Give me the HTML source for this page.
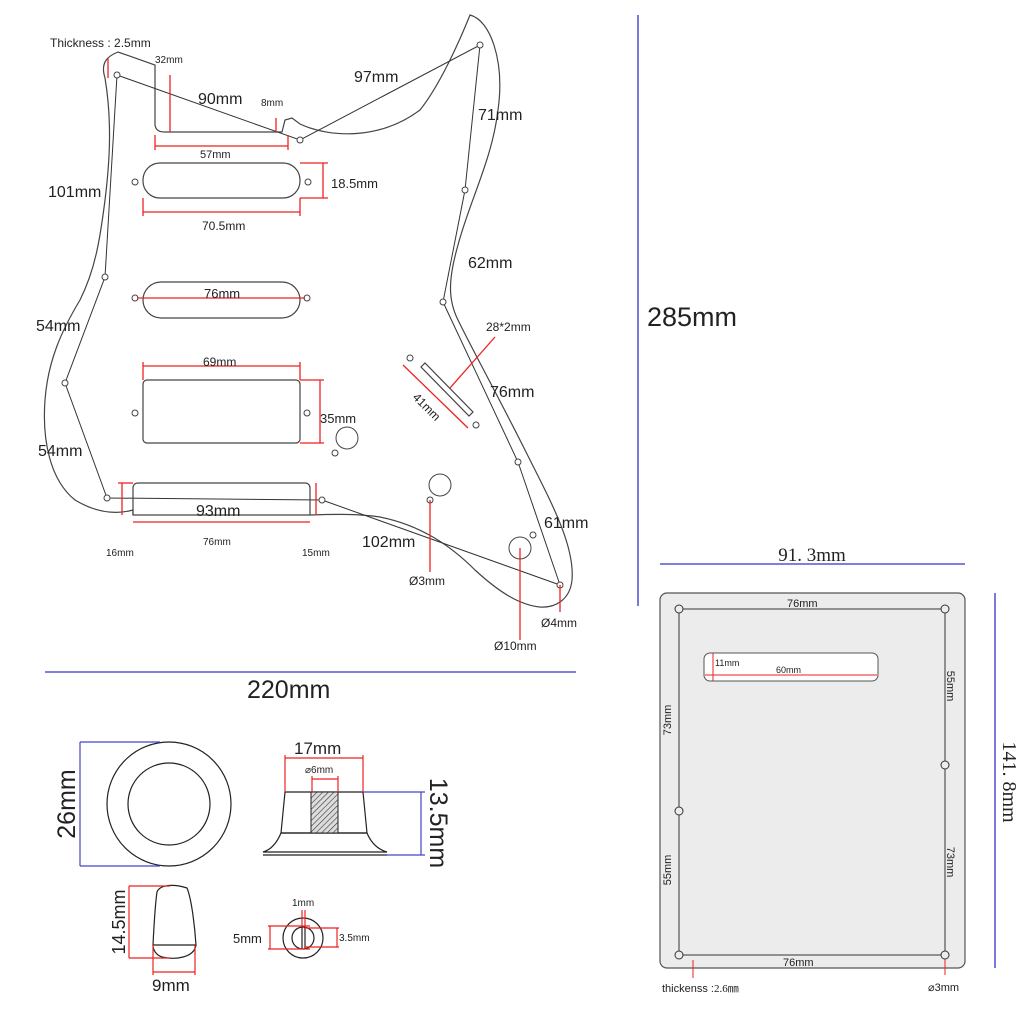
<!DOCTYPE html>
<html><head><meta charset="utf-8"><style>
html,body{margin:0;padding:0;background:#fff;}
svg{display:block;font-family:"Liberation Sans",sans-serif;}
</style></head><body>
<svg width="1024" height="1024" viewBox="0 0 1024 1024" xmlns="http://www.w3.org/2000/svg">
<defs>
<pattern id="hatch" width="4" height="4" patternUnits="userSpaceOnUse" patternTransform="rotate(45)">
<rect width="4" height="4" fill="#ddd"/><line x1="0" y1="0" x2="0" y2="4" stroke="#333" stroke-width="1.2"/></pattern>
</defs>
<!-- pickguard outline -->
<path d="M105,78 C100,62 108,56 118,52 L155,65 L155,125 C156,131 160,132 165,132 L282,132 L285,120 L292,118 L300,124 C330,138 380,140 420,110 C440,85 460,40 470,15 C490,20 505,60 498,110 C492,160 470,200 458,245 C448,280 448,300 458,320 C470,345 500,400 525,450 C550,500 575,545 572,580 C570,600 555,608 540,607 C520,605 500,593 475,570 C450,545 420,525 380,517 C360,514 340,514 310,515 L133,515 L133,510 C115,515 95,512 75,500 C50,480 42,440 45,400 C48,360 62,330 80,300 C95,270 100,240 105,200 C110,160 112,120 105,78 Z" fill="none" stroke="#444" stroke-width="1.2"/>
<!-- screw connecting lines -->
<polyline points="117,75 300,140 480,45 465,190 443,302 518,462 560,585 322,500" fill="none" stroke="#333" stroke-width="1"/>
<polyline points="107,498 65,383 105,277 117,75" fill="none" stroke="#333" stroke-width="1"/>
<line x1="107" y1="498" x2="322" y2="500" stroke="#333" stroke-width="1"/>
<!-- screws -->
<g fill="#fff" stroke="#444" stroke-width="1">
<circle cx="117" cy="75" r="3"/><circle cx="300" cy="140" r="3"/><circle cx="480" cy="45" r="3"/>
<circle cx="465" cy="190" r="3"/><circle cx="443" cy="302" r="3"/><circle cx="518" cy="462" r="3"/>
<circle cx="560" cy="585" r="3"/><circle cx="322" cy="500" r="3"/><circle cx="107" cy="498" r="3"/>
<circle cx="65" cy="383" r="3"/><circle cx="105" cy="277" r="3"/>
<circle cx="135" cy="182" r="3"/><circle cx="308" cy="182" r="3"/>
<circle cx="135" cy="298" r="3"/><circle cx="307" cy="298" r="3"/>
<circle cx="135" cy="413" r="3"/><circle cx="307" cy="413" r="3"/>
<circle cx="410" cy="358" r="3"/><circle cx="476" cy="425" r="3"/>
<circle cx="347" cy="438" r="11"/><circle cx="335" cy="453" r="3"/>
<circle cx="440" cy="485" r="11"/><circle cx="430" cy="500" r="3"/>
<circle cx="520" cy="548" r="11"/><circle cx="533" cy="535" r="3"/>
</g>
<!-- pickups -->
<g fill="none" stroke="#444" stroke-width="1.2">
<rect x="143" y="163" width="157" height="35" rx="17"/>
<rect x="143" y="282" width="157" height="36" rx="18"/>
<rect x="143" y="380" width="157" height="63" rx="4"/>
<path d="M133,515 L133,488 C133,485 135,483 138,483 L305,483 C308,483 310,485 310,488 L310,515"/>
<polygon points="421,367 425,363 473,412 469,416"/>
</g>
<!-- red dims -->
<g stroke="#e22" stroke-width="1.3" fill="none">
<line x1="108" y1="58" x2="108" y2="78"/>
<line x1="170" y1="75" x2="170" y2="132"/>
<line x1="276" y1="118" x2="276" y2="132"/>
<line x1="155" y1="146" x2="288" y2="146"/><line x1="155" y1="135" x2="155" y2="150"/><line x1="288" y1="135" x2="288" y2="150"/>
<line x1="323" y1="163" x2="323" y2="198"/><line x1="300" y1="163" x2="328" y2="163"/><line x1="300" y1="198" x2="328" y2="198"/>
<line x1="143" y1="212" x2="300" y2="212"/><line x1="143" y1="198" x2="143" y2="216"/><line x1="300" y1="198" x2="300" y2="216"/>
<line x1="137" y1="298" x2="305" y2="298"/>
<line x1="143" y1="366" x2="300" y2="366"/><line x1="143" y1="362" x2="143" y2="380"/><line x1="300" y1="362" x2="300" y2="380"/>
<line x1="320" y1="380" x2="320" y2="443"/><line x1="300" y1="380" x2="324" y2="380"/><line x1="300" y1="443" x2="324" y2="443"/>
<line x1="122" y1="483" x2="122" y2="515"/><line x1="118" y1="483" x2="133" y2="483"/>
<line x1="316" y1="483" x2="316" y2="515"/>
<line x1="133" y1="522" x2="310" y2="522"/>
<line x1="403" y1="365" x2="468" y2="428"/>
<line x1="495" y1="337" x2="450" y2="388"/>
<line x1="430" y1="500" x2="430" y2="572"/>
<line x1="520" y1="548" x2="520" y2="640"/>
<line x1="560" y1="585" x2="560" y2="612"/>
</g>
<!-- labels pickguard -->
<g fill="#222">
<text x="50" y="47" font-size="12">Thickness : 2.5mm</text>
<text x="155" y="63" font-size="10">32mm</text>
<text x="198" y="104" font-size="16">90mm</text>
<text x="261" y="106" font-size="10">8mm</text>
<text x="200" y="158" font-size="11">57mm</text>
<text x="354" y="82" font-size="16">97mm</text>
<text x="478" y="120" font-size="16">71mm</text>
<text x="48" y="197" font-size="16">101mm</text>
<text x="331" y="188" font-size="13">18.5mm</text>
<text x="202" y="230" font-size="12">70.5mm</text>
<text x="468" y="268" font-size="16">62mm</text>
<text x="204" y="298" font-size="13">76mm</text>
<text x="36" y="331" font-size="16">54mm</text>
<text x="486" y="331" font-size="12">28*2mm</text>
<text x="203" y="366" font-size="12">69mm</text>
<text x="490" y="397" font-size="16">76mm</text>
<text x="320" y="423" font-size="13">35mm</text>
<text x="412" y="398" font-size="12" transform="rotate(45 412 398)">41mm</text>
<text x="38" y="456" font-size="16">54mm</text>
<text x="196" y="516" font-size="16">93mm</text>
<text x="203" y="545" font-size="10">76mm</text>
<text x="106" y="556" font-size="10">16mm</text>
<text x="302" y="556" font-size="10">15mm</text>
<text x="362" y="547" font-size="16">102mm</text>
<text x="544" y="528" font-size="16">61mm</text>
<text x="409" y="585" font-size="12">Ø3mm</text>
<text x="541" y="627" font-size="12">Ø4mm</text>
<text x="494" y="650" font-size="12">Ø10mm</text>
<text x="647" y="326" font-size="27">285mm</text>
<text x="247" y="698" font-size="25">220mm</text>
</g>
<!-- big blue dims -->
<g stroke="#33c" stroke-width="1.3">
<line x1="638" y1="15" x2="638" y2="606"/>
<line x1="45" y1="672" x2="576" y2="672"/>
<line x1="660" y1="564" x2="965" y2="564"/>
<line x1="995" y1="593" x2="995" y2="968"/>
</g>
<!-- knobs -->
<g fill="none" stroke="#222" stroke-width="1.2">
<circle cx="169" cy="804" r="62"/><circle cx="169" cy="804" r="41"/>
<path d="M285,792 L363,792 L367,833 L281,833 Z"/>
<path d="M281,833 L367,833 C372,845 380,850 387,852 L263,852 C270,850 276,845 281,833 Z"/>
<line x1="263" y1="855" x2="387" y2="855"/>
<path d="M157,892 C160,884 175,884 187,888 C192,900 195,930 196,945 C194,958 175,960 162,957 C156,955 153,950 153,945 C154,925 155,905 157,892 Z"/>
<line x1="153" y1="945" x2="196" y2="945"/>
<circle cx="303" cy="938" r="20"/><circle cx="303" cy="938" r="11"/>
<line x1="302" y1="927" x2="302" y2="949"/><line x1="305" y1="927" x2="305" y2="949"/>
</g>
<rect x="311" y="792" width="27" height="41" fill="url(#hatch)" stroke="#222"/>
<g stroke="#44c" stroke-width="1.2">
<line x1="80" y1="742" x2="80" y2="866"/><line x1="80" y1="742" x2="160" y2="742"/><line x1="80" y1="866" x2="160" y2="866"/>
<line x1="421" y1="792" x2="421" y2="855"/><line x1="363" y1="792" x2="425" y2="792"/><line x1="387" y1="855" x2="425" y2="855"/>
</g>
<g stroke="#e22" stroke-width="1.2">
<line x1="285" y1="758" x2="363" y2="758"/><line x1="285" y1="755" x2="285" y2="792"/><line x1="363" y1="755" x2="363" y2="792"/>
<line x1="312" y1="779" x2="338" y2="779"/><line x1="312" y1="776" x2="312" y2="792"/><line x1="338" y1="776" x2="338" y2="792"/>
<line x1="129" y1="886" x2="129" y2="958"/><line x1="129" y1="886" x2="170" y2="886"/><line x1="129" y1="958" x2="170" y2="958"/>
<line x1="153" y1="972" x2="195" y2="972"/><line x1="153" y1="945" x2="153" y2="975"/><line x1="195" y1="945" x2="195" y2="975"/>
<line x1="270" y1="926" x2="270" y2="949"/><line x1="268" y1="926" x2="310" y2="926"/><line x1="268" y1="949" x2="310" y2="949"/>
<line x1="337" y1="928" x2="337" y2="947"/><line x1="305" y1="928" x2="339" y2="928"/><line x1="305" y1="947" x2="339" y2="947"/>
<line x1="302" y1="910" x2="302" y2="927"/><line x1="305" y1="910" x2="305" y2="927"/>
</g>
<g fill="#222">
<text x="294" y="754" font-size="17">17mm</text>
<text x="305" y="773" font-size="10">⌀6mm</text>
<text x="75" y="804" font-size="25" text-anchor="middle" transform="rotate(-90 75 804)">26mm</text>
<text x="430" y="823" font-size="25" text-anchor="middle" transform="rotate(90 430 823)">13.5mm</text>
<text x="125" y="922" font-size="18" text-anchor="middle" transform="rotate(-90 125 922)">14.5mm</text>
<text x="152" y="991" font-size="17">9mm</text>
<text x="292" y="906" font-size="10">1mm</text>
<text x="233" y="943" font-size="13">5mm</text>
<text x="339" y="941" font-size="10">3.5mm</text>
</g>
<!-- back plate -->
<rect x="660" y="593" width="305" height="375" rx="7" fill="#ececec" stroke="#555" stroke-width="1.2"/>
<rect x="679" y="609" width="266" height="346" fill="none" stroke="#333" stroke-width="1"/>
<rect x="704" y="653" width="174" height="28" rx="6" fill="#fff" stroke="#555"/>
<g stroke="#e22" stroke-width="1">
<line x1="713" y1="653" x2="713" y2="681"/><line x1="705" y1="675" x2="877" y2="675"/>
<line x1="693" y1="960" x2="693" y2="978"/><line x1="945" y1="955" x2="945" y2="975"/>
</g>
<g fill="#ececec" stroke="#333" stroke-width="1">
<circle cx="679" cy="609" r="4"/><circle cx="945" cy="609" r="4"/><circle cx="679" cy="955" r="4"/><circle cx="945" cy="955" r="4"/>
<circle cx="679" cy="811" r="4"/><circle cx="945" cy="765" r="4"/>
</g>
<g fill="#222">
<text x="787" y="607" font-size="11">76mm</text>
<text x="783" y="966" font-size="11">76mm</text>
<text x="715" y="666" font-size="9">11mm</text>
<text x="776" y="673" font-size="9">60mm</text>
<text x="671" y="720" font-size="11" text-anchor="middle" transform="rotate(-90 671 720)">73mm</text>
<text x="671" y="870" font-size="11" text-anchor="middle" transform="rotate(-90 671 870)">55mm</text>
<text x="947" y="686" font-size="11" text-anchor="middle" transform="rotate(90 947 686)">55mm</text>
<text x="947" y="862" font-size="11" text-anchor="middle" transform="rotate(90 947 862)">73mm</text>
<text x="662" y="992" font-size="11">thickenss :<tspan font-family="Liberation Serif">2.6㎜</tspan></text>
<text x="928" y="991" font-size="11">⌀3mm</text>
<text x="812" y="561" font-size="19" text-anchor="middle" font-family="Liberation Serif">91. 3mm</text>
<text x="1003" y="782" font-size="20" text-anchor="middle" font-family="Liberation Serif" transform="rotate(90 1003 782)">141. 8mm</text>
</g>
</svg>
</body></html>
